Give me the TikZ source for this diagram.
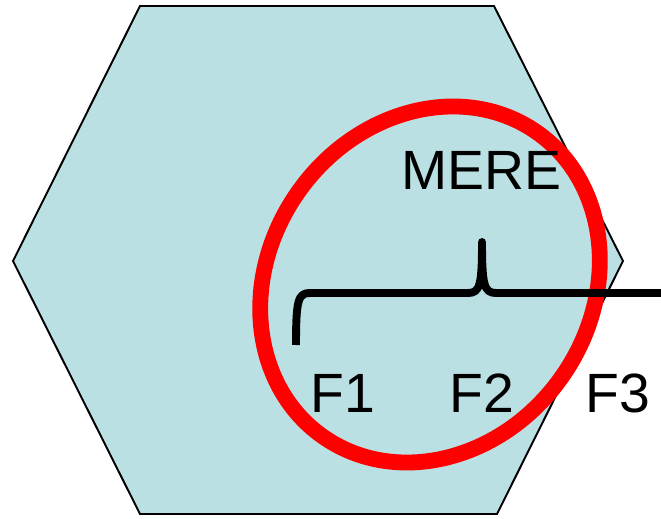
\documentclass[tikz,border=0pt]{standalone}
\usepackage{fontspec}
\setmainfont{Liberation Sans}
\usetikzlibrary{positioning}
\definecolor{hexfill}{RGB}{187,224,227}

\begin{document}
\begin{tikzpicture}[
    x=0.02cm, y=-0.02cm,
    hexagon/.style={draw=black, fill=hexfill, line width=1.1pt, line join=miter},
    ring/.style={draw=red, line width=9pt},
    brace/.style={draw=black, line width=4.5pt, line join=round},
    label/.style={inner sep=0pt, anchor=base, font=\fontsize{31.5}{38}\selectfont}
]
\useasboundingbox (0,0) rectangle (661,519);
\draw[hexagon] (140,6) -- (494,6) -- (623,261) -- (497,514) -- (140,514) -- (13,261) -- cycle;
\draw[ring] (430,284.5) ellipse [x radius=161, y radius=186, rotate=-35.4];
\draw[brace] (296,345) .. controls (296,300) and (298,293) .. (310,293) -- (468,293)
    .. controls (480,293) and (482,285) .. (482,242)
    .. controls (482,285) and (484,293) .. (496,293) -- (661,293);
\node[label] (mere) at (481.5,190) {MERE};
\node[label] (f1) at (342.5,412) {F1};
\node[label] (f2) at (482,412) {F2};
\node[label] (f3) at (617.5,412) {F3};
\end{tikzpicture}
\end{document}
